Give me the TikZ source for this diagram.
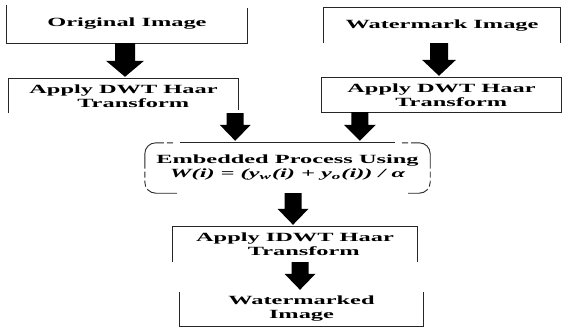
\documentclass[tikz,border=0pt]{standalone}
\usepackage{fontspec}
\setmainfont{Liberation Serif}
\usepackage{graphicx}
\usetikzlibrary{calc}
\newcommand\wide[1]{\scalebox{1.95}[1]{#1}}
\newcommand\blockarrow[4]{%
  \fill[black] let \p1=(#1), \p2=(#2) in
    (\x1-#3,\y1) -- (\x1+#3,\y1) -- (\x1+#3,\y2+18pt) -- (\x1+#4,\y2+18pt)
    -- (\x1,\y2+2pt) -- (\x1-#4,\y2+18pt) -- (\x1-#3,\y2+18pt) -- cycle;}
\begin{document}
\begin{tikzpicture}[x=1pt,y=-1pt,
  box/.style={draw=none, inner sep=0pt, align=center,
    font=\fontsize{12.5}{14}\selectfont\bfseries},
  edge/.style={line width=0.9pt, draw=black!85},
  dashedge/.style={line width=0.9pt, draw=black!85, dash pattern=on 6pt off 3pt on 40pt off 3pt on 6pt off 3pt, rounded corners=11pt},
]
\useasboundingbox (0,0) rectangle (564,327);
\fill[white] (0,0) rectangle (564,327);

% nodes
\node[box, minimum width=240pt, minimum height=38pt] (b1) at (127,24) {\wide{Original Image}};
\node[box, minimum width=236pt, minimum height=35pt] (b2) at (442,25.5) {\wide{Watermark Image}};
\node[box, minimum width=229pt, minimum height=34pt] (b3) at (123.5,96) {\wide{Apply DWT Haar}\\\wide{\hspace*{10pt}Transform}};
\node[box, minimum width=239pt, minimum height=34pt] (b4) at (441.5,95) {\wide{Apply DWT Haar}\\\wide{\hspace*{10pt}Transform}};
\node[box, minimum width=285pt, minimum height=50pt] (emb) at (287.5,168) {\wide{Embedded Process Using}\\\wide{\itshape W(i) = (y\textsubscript{w}(i) + y\textsubscript{o}(i)) / α}};
\node[box, minimum width=244pt, minimum height=35pt] (idwt) at (295,244.5) {\wide{Apply IDWT Haar}\\\wide{\hspace*{9pt}Transform}};
\node[box, minimum width=243pt, minimum height=34pt] (wm) at (301.5,309) {\wide{Watermarked}\\\wide{Image}};

% visible box borders
\draw[edge] (b1.north west) -- (b1.south west) -- (b1.south east) -- ([yshift=-3pt]b1.north east);
\draw[edge] (b2.south west) -- (b2.north west) -- (b2.north east) -- (b2.south east);
\draw[edge] (b3.south west) -- (b3.north west) -- (b3.north east) -- ([yshift=3pt]b3.south east);
\draw[edge] (b4.north west) rectangle (b4.south east);
\draw[edge] ([xshift=35pt]emb.north west) -- ([xshift=-35pt]emb.north east);
\draw[dashedge] ([xshift=28pt]emb.north west) -- (emb.north west) -- (emb.south west) -- ([xshift=32pt]emb.south west);
\draw[dashedge] ([xshift=-28pt]emb.north east) -- (emb.north east) -- (emb.south east) -- ([xshift=-22pt]emb.south east);
\draw[edge] (idwt.south west) -- (idwt.north west) -- (idwt.north east) -- (idwt.south east);
\draw[edge] (wm.north west) -- (wm.south west) -- (wm.south east) -- (wm.north east);

% block arrows
\blockarrow{[xshift=-2pt]b1.south}{b3.north}{10pt}{19pt}
\blockarrow{[xshift=-3pt]b2.south}{b4.north}{9pt}{17pt}
\blockarrow{[xshift=-3pt]b3.south east}{emb.north}{8.5pt}{15.5pt}
\blockarrow{[xshift=38pt]b4.south west}{emb.north}{8.5pt}{16pt}
\blockarrow{[xshift=5.5pt]emb.south}{idwt.north}{8.5pt}{15.5pt}
\blockarrow{[xshift=5pt]idwt.south}{wm.north}{8.5pt}{15.5pt}
\end{tikzpicture}
\end{document}
